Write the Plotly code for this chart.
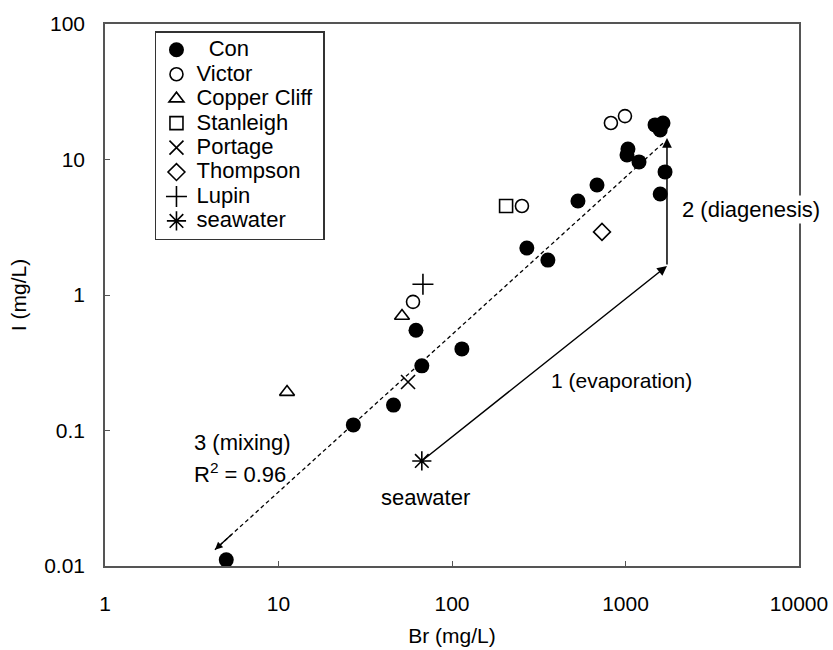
import numpy as np
import plotly.graph_objects as go

# ---------------- data ----------------
con_br = [5, 27, 46, 62, 67, 114, 270, 357, 532, 685, 1020, 1033, 1196, 1480, 1585, 1645, 1690, 1585]
con_i = [0.0111, 0.110, 0.154, 0.55, 0.30, 0.40, 2.22, 1.81, 4.94, 6.49, 10.8, 11.95, 9.6, 18.0, 16.5, 18.6, 8.1, 5.56]

victor_br = [59.6, 253, 824, 993]
victor_i = [0.89, 4.54, 18.6, 20.9]

copper_br = [11.2, 51.5]
copper_i = [0.192, 0.70]

stanleigh_br = [205]
stanleigh_i = [4.54]

portage_br = [55.8]
portage_i = [0.228]

thompson_br = [732]
thompson_i = [2.92]

lupin_br = [68]
lupin_i = [1.2]

seawater_br = [67]
seawater_i = [0.0596]

# process arrows (Br, I)
evap_start = (67, 0.0596)
evap_end = (1734, 1.64)
diag_end = (1734, 14.4)
mix_start = (1645, 13.2)
mix_end = (4.3, 0.0132)

x_ticks = [1, 10, 100, 1000, 10000]
x_ticktext = ["1", "10", "100", "1000", "10000"]
y_ticks = [0.01, 0.1, 1, 10, 100]
y_ticktext = ["0.01", "0.1", "1", "10", "100"]

FONT = "Liberation Sans, Arial, sans-serif"
LEG_FS = 22


def nm(s):
    return f'<span style="font-size:{LEG_FS}px">{s}</span>'


fig = go.Figure()

# dashed mixing line (drawn first, under markers)
fig.add_trace(go.Scatter(
    x=[mix_start[0], mix_end[0]], y=[mix_start[1], mix_end[1]],
    mode="lines", line=dict(color="black", width=1.3, dash="4px,3px"),
    showlegend=False, hoverinfo="skip"))

lw = 1.6
fig.add_trace(go.Scatter(x=con_br, y=con_i, mode="markers", name=nm("\u00a0 Con"),
                         marker=dict(symbol="circle", size=15, color="black"), cliponaxis=False))
fig.add_trace(go.Scatter(x=victor_br, y=victor_i, mode="markers", name=nm("Victor"),
                         marker=dict(symbol="circle-open", size=13, color="black", line=dict(width=lw)),
                         cliponaxis=False))
fig.add_trace(go.Scatter(x=copper_br, y=copper_i, mode="markers", name=nm("Copper Cliff\u00a0"),
                         marker=dict(symbol="triangle-up-open", size=13, color="black", line=dict(width=lw)),
                         cliponaxis=False))
fig.add_trace(go.Scatter(x=stanleigh_br, y=stanleigh_i, mode="markers", name=nm("Stanleigh"),
                         marker=dict(symbol="square-open", size=13, color="black", line=dict(width=lw)),
                         cliponaxis=False))
fig.add_trace(go.Scatter(x=portage_br, y=portage_i, mode="markers", name=nm("Portage"),
                         marker=dict(symbol="x-thin-open", size=14, color="black", line=dict(width=lw, color="black")),
                         cliponaxis=False))
fig.add_trace(go.Scatter(x=thompson_br, y=thompson_i, mode="markers", name=nm("Thompson"),
                         marker=dict(symbol="diamond-open", size=13, color="black", line=dict(width=lw)),
                         cliponaxis=False))
fig.add_trace(go.Scatter(x=lupin_br, y=lupin_i, mode="markers", name=nm("Lupin"),
                         marker=dict(symbol="cross-thin-open", size=15, color="black", line=dict(width=lw, color="black")),
                         cliponaxis=False))
fig.add_trace(go.Scatter(x=seawater_br, y=seawater_i, mode="markers", name=nm("seawater"),
                         marker=dict(symbol="asterisk-open", size=16, color="black", line=dict(width=lw, color="black")),
                         cliponaxis=False))

L = np.log10
annotations = []


def arrow(start, end):
    return dict(x=L(end[0]), y=L(end[1]), ax=L(start[0]), ay=L(start[1]),
                xref="x", yref="y", axref="x", ayref="y", text="", showarrow=True,
                arrowhead=2, arrowsize=1.3, arrowwidth=1.5, arrowcolor="black", standoff=0, startstandoff=0)


annotations.append(arrow(evap_start, evap_end))
annotations.append(arrow(evap_end, diag_end))
# arrowhead for dashed mixing line: short segment near its end
frac = 0.04
hx = L(mix_end[0]) + frac * (L(mix_start[0]) - L(mix_end[0]))
hy = L(mix_end[1]) + frac * (L(mix_start[1]) - L(mix_end[1]))
annotations.append(dict(x=L(mix_end[0]), y=L(mix_end[1]), ax=hx, ay=hy,
                        xref="x", yref="y", axref="x", ayref="y", text="", showarrow=True,
                        arrowhead=2, arrowsize=1.1, arrowwidth=1.4, arrowcolor="black", standoff=0))

TF = 21


def label(text, x, y, xanchor="center", bg=None, size=TF):
    d = dict(x=L(x), y=L(y), xref="x", yref="y", text=text, showarrow=False,
             xanchor=xanchor, yanchor="middle", font=dict(family=FONT, size=size, color="black"))
    if bg:
        d["bgcolor"] = bg
    return d


annotations.append(label("2 (diagenesis)", 5290, 4.24, bg="white", size=22))
annotations.append(label("1 (evaporation)", 942, 0.232))
annotations.append(label("3 (mixing)", 3.17, 0.081, xanchor="left", size=22))
annotations.append(label("R<sup>2</sup> = 0.96", 3.17, 0.0486, xanchor="left", size=22))
annotations.append(label("seawater", 69.9, 0.0318, size=22))

axis_common = dict(type="log", showgrid=False, zeroline=False, showline=True, linecolor="#555555",
                   linewidth=1.5, mirror=True, ticks="inside", ticklen=5, tickcolor="#555555",
                   tickfont=dict(family=FONT, size=21, color="black"), automargin=False)

fig.update_layout(
    width=833, height=650,
    margin=dict(l=105, r=34, t=24, b=84),
    paper_bgcolor="white", plot_bgcolor="white",
    font=dict(family=FONT, color="black"),
    xaxis=dict(range=[0, 4], tickvals=x_ticks, ticktext=x_ticktext, ticklabelstandoff=18,
               title=dict(text="Br (mg/L)", font=dict(family=FONT, size=21), standoff=14),
               **axis_common),
    yaxis=dict(range=[-2, 2], tickvals=y_ticks, ticktext=y_ticktext, ticklabelstandoff=14,
               title=dict(text="I (mg/L)", font=dict(family=FONT, size=21), standoff=12),
               **axis_common),
    legend=dict(x=0.072, y=0.987, xanchor="left", yanchor="top", bgcolor="white",
                bordercolor="#333333", borderwidth=1.5, font=dict(family=FONT, size=16.5, color="black"),
                itemwidth=30, tracegroupgap=0),
    annotations=annotations,
    showlegend=True,
)

fig.write_html("out.html")
